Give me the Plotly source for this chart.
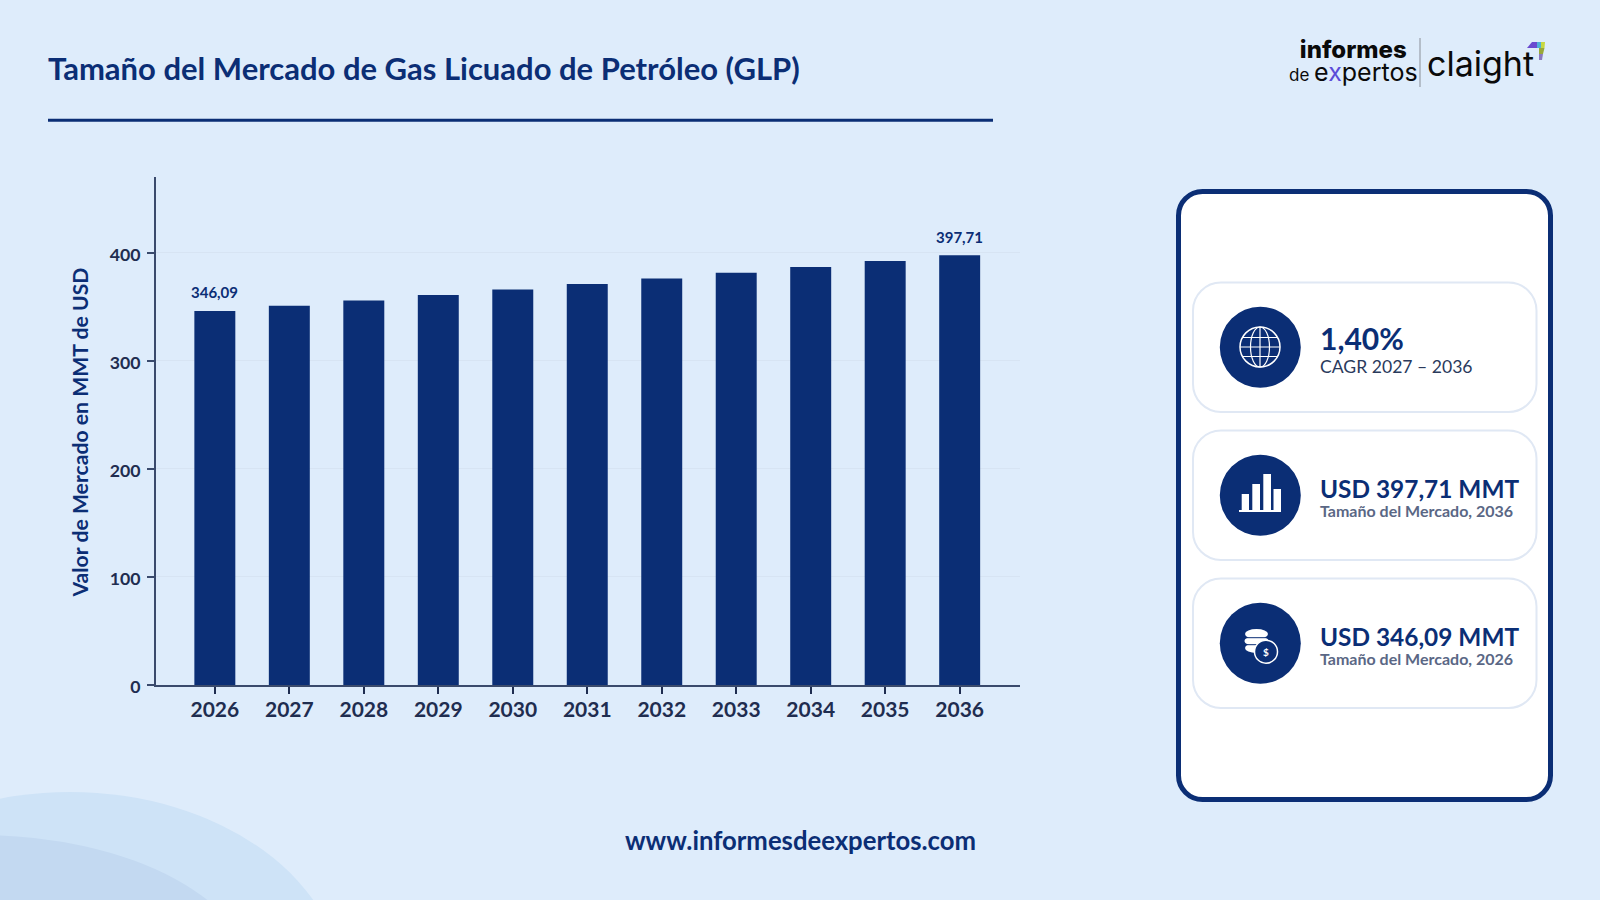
import plotly.graph_objects as go

# ---- data ----
years = ["2026", "2027", "2028", "2029", "2030", "2031", "2032", "2033", "2034", "2035", "2036"]
market_value = [346.09, 350.9, 355.8, 360.8, 365.9, 371.0, 376.2, 381.5, 386.8, 392.2, 397.71]
bar_labels = ["346,09", "", "", "", "", "", "", "", "", "", "397,71"]
y_ticks = [0, 100, 200, 300, 400]

title_text = "Tamaño del Mercado de Gas Licuado de Petróleo (GLP)"
y_title = "Valor de Mercado en MMT de USD"
footer_text = "www.informesdeexpertos.com"
kpi_main = ["1,40%", "USD 397,71 MMT", "USD 346,09 MMT"]
kpi_sub = ["CAGR 2027 – 2036", "Tamaño del Mercado, 2036", "Tamaño del Mercado, 2026"]

# ---- styles ----
W, H = 1600, 900
BG = "#DEECFB"
NAVY = "#0B2E75"
AXIS = "#3A4A6C"
TICK = "#1F2D50"
GRID = "#D7E4F3"
FONT = "Lato"


def px(x):
    return x / W


def py(y):
    return 1 - y / H


shapes = []
annotations = []


def ell(cx, cy, rx, ry, fill=None, line=None, lw=0):
    shapes.append(dict(type="circle", xref="paper", yref="paper",
                       x0=px(cx - rx), x1=px(cx + rx), y0=py(cy + ry), y1=py(cy - ry),
                       fillcolor=fill if fill else "rgba(0,0,0,0)",
                       line=dict(color=line if line else "rgba(0,0,0,0)", width=lw)))


def rect(x0, y0, x1, y1, fill):
    shapes.append(dict(type="rect", xref="paper", yref="paper",
                       x0=px(x0), x1=px(x1), y0=py(y1), y1=py(y0),
                       fillcolor=fill, line=dict(width=0)))


def seg(x0, y0, x1, y1, color, lw):
    shapes.append(dict(type="line", xref="paper", yref="paper",
                       x0=px(x0), x1=px(x1), y0=py(y0), y1=py(y1),
                       line=dict(color=color, width=lw)))


def path(points, fill=None, line=None, lw=0):
    shapes.append(dict(type="path", xref="paper", yref="paper", path=points,
                       fillcolor=fill if fill else "rgba(0,0,0,0)",
                       line=dict(color=line if line else "rgba(0,0,0,0)", width=lw)))


def P(x, y):
    return f"{px(x):.6f},{py(y):.6f}"


def poly(points, fill):
    path("M" + " L".join(P(x, y) for x, y in points) + " Z", fill)


def rrect(x0, y0, x1, y1, r, fill, line, lw):
    k = r * 0.448
    d = (f"M{P(x0 + r, y0)} L{P(x1 - r, y0)} C{P(x1 - k, y0)} {P(x1, y0 + k)} {P(x1, y0 + r)} "
         f"L{P(x1, y1 - r)} C{P(x1, y1 - k)} {P(x1 - k, y1)} {P(x1 - r, y1)} "
         f"L{P(x0 + r, y1)} C{P(x0 + k, y1)} {P(x0, y1 - k)} {P(x0, y1 - r)} "
         f"L{P(x0, y0 + r)} C{P(x0, y0 + k)} {P(x0 + k, y0)} {P(x0 + r, y0)} Z")
    path(d, fill, line, lw)


def text(x, y, s, size, color, weight=400, anchor="left", family=FONT, angle=0):
    annotations.append(dict(xref="paper", yref="paper", x=px(x), y=py(y), text=s, showarrow=False,
                            xanchor=anchor, yanchor="middle", borderpad=0, borderwidth=0, textangle=angle,
                            font=dict(family=family, size=size, color=color, weight=weight)))


# corner decoration
ell(70, 992, 274, 200, fill="#CEE3F7")
ell(-20, 985, 276, 150, fill="#C3D9F1")

# heading
text(48, 68, title_text, 31, NAVY, 700)
seg(48, 120.3, 993, 120.3, NAVY, 3)
text(800, 840, footer_text, 25.7, NAVY, 700, "center")

# logo
text(1353, 61,
     "<span style='font-size:24px;font-weight:800'>informes</span><br>"
     "<span style='font-size:17px'>de </span><span style='font-size:25px'>e</span>"
     "<span style='font-size:25px;color:#5B4BD8'>x</span><span style='font-size:25px'>pertos</span>",
     18, "#0A0A0A", 400, "center", family="Inter")
seg(1420, 38, 1420, 87, "#8A8F98", 1)
text(1427, 63, "claight", 34, "#0A0A0A", 400, family="Inter")
poly([(1527, 48), (1532, 42), (1537, 42), (1537, 48)], "#6A4BD0")
poly([(1537, 42), (1541, 42), (1541, 48), (1537, 48)], "#4FB0D8")
poly([(1541, 42), (1545, 42), (1544.5, 48), (1541, 48)], "#C8D840")
poly([(1539, 48), (1544.5, 48), (1543, 54), (1539, 54)], "#9AA838")
poly([(1539, 54), (1543, 54), (1542, 60), (1539, 60)], "#8A78C0")

# right panel
rrect(1178.5, 191.5, 1550.5, 799.5, 24, "#FFFFFF", NAVY, 5)
card_tops = [(282.5, 412), (430.5, 560), (578.5, 708)]
for (t, b) in card_tops:
    rrect(1193, t, 1536.5, b, 28, "#FFFFFF", "#E0E8F4", 2)
    ell(1260.3, (t + b) / 2, 40.5, 40.5, fill=NAVY)

# KPI text
text(1320, 338, kpi_main[0], 30, NAVY, 700)
text(1320, 366, kpi_sub[0], 17.6, "#2A3A5C", 400)
text(1320, 488, kpi_main[1], 24.4, NAVY, 700)
text(1320, 510, kpi_sub[1], 16, "#5A6785", 700)
text(1320, 636, kpi_main[2], 24.4, NAVY, 700)
text(1320, 658, kpi_sub[2], 16, "#5A6785", 700)

# globe icon
gx, gy = 1260, 347
ell(gx, gy, 20, 20, line="#FFFFFF", lw=1.5)
ell(gx, gy, 9.5, 20, line="#FFFFFF", lw=1.2)
seg(gx, gy - 20, gx, gy + 20, "#FFFFFF", 1.2)
seg(gx - 20, gy, gx + 20, gy, "#FFFFFF", 1.2)
seg(gx - 17.5, gy - 9.5, gx + 17.5, gy - 9.5, "#FFFFFF", 1.2)
seg(gx - 17.5, gy + 9.5, gx + 17.5, gy + 9.5, "#FFFFFF", 1.2)

# bars icon
rect(1241.7, 494, 1249, 511, "#FFFFFF")
rect(1252.3, 484, 1260, 511, "#FFFFFF")
rect(1263.3, 474, 1271, 511, "#FFFFFF")
rect(1273.5, 489, 1281, 511, "#FFFFFF")
rect(1239, 510, 1281, 512, "#FFFFFF")

# coins icon
ell(1256.5, 634, 11.5, 5, fill="#FFFFFF")
ell(1256.5, 641, 12, 5, fill="#FFFFFF")
ell(1256.5, 648, 11.5, 5, fill="#FFFFFF")
seg(1244, 637.7, 1269, 637.7, NAVY, 1)
seg(1244, 644.7, 1269, 644.7, NAVY, 1)
ell(1266, 651.7, 11.5, 11.5, fill=NAVY, line="#FFFFFF", lw=1.5)
text(1266, 651.7, "$", 10, "#FFFFFF", 700, "center")

# y-axis title
text(79, 432.5, y_title, 21.2, NAVY, 700, "center", angle=-90)

# value labels sit above their bars, placed by the chart's own scales
for i, (val, lab) in enumerate(zip(market_value, bar_labels)):
    if lab:
        annotations.append(dict(xref="x", yref="y", x=i, y=val, text=lab, showarrow=False,
                                yanchor="middle", xanchor="center", yshift=18.5, borderpad=0,
                                font=dict(family=FONT, size=15, color=NAVY, weight=700)))

# ---- chart ----
fig = go.Figure(go.Bar(
    x=years, y=market_value, width=0.55, marker=dict(color=NAVY, line=dict(width=0)), hoverinfo="skip",
))
fig.update_layout(
    width=W, height=H, autosize=False,
    margin=dict(l=0, r=0, t=0, b=0),
    paper_bgcolor=BG, plot_bgcolor="rgba(0,0,0,0)",
    showlegend=False, shapes=shapes, annotations=annotations,
    font=dict(family=FONT),
    xaxis=dict(domain=[px(156), px(1020)], type="category", range=[-0.79, 10.81], automargin=False,
               showline=True, linecolor=AXIS, linewidth=2, ticks="outside", ticklen=7,
               tickwidth=2, tickcolor=TICK, showgrid=False, zeroline=False, ticklabelstandoff=-2,
               tickfont=dict(family=FONT, size=21, color=TICK, weight=700), anchor="y"),
    yaxis=dict(domain=[py(685), py(177)], range=[0, 470], tickvals=y_ticks, automargin=False,
               showline=True, linecolor=AXIS, linewidth=2, ticks="outside", ticklen=7,
               tickwidth=2, tickcolor=AXIS, gridcolor=GRID, gridwidth=1, zeroline=False, ticklabelstandoff=3,
               ticklabelshift=2,
               tickfont=dict(family=FONT, size=17.7, color=TICK, weight=700), anchor="x"),
)
fig.write_html("out.html", config=dict(displayModeBar=False),
               post_script="document.body.style.margin='0';document.body.style.background='" + BG + "';")
